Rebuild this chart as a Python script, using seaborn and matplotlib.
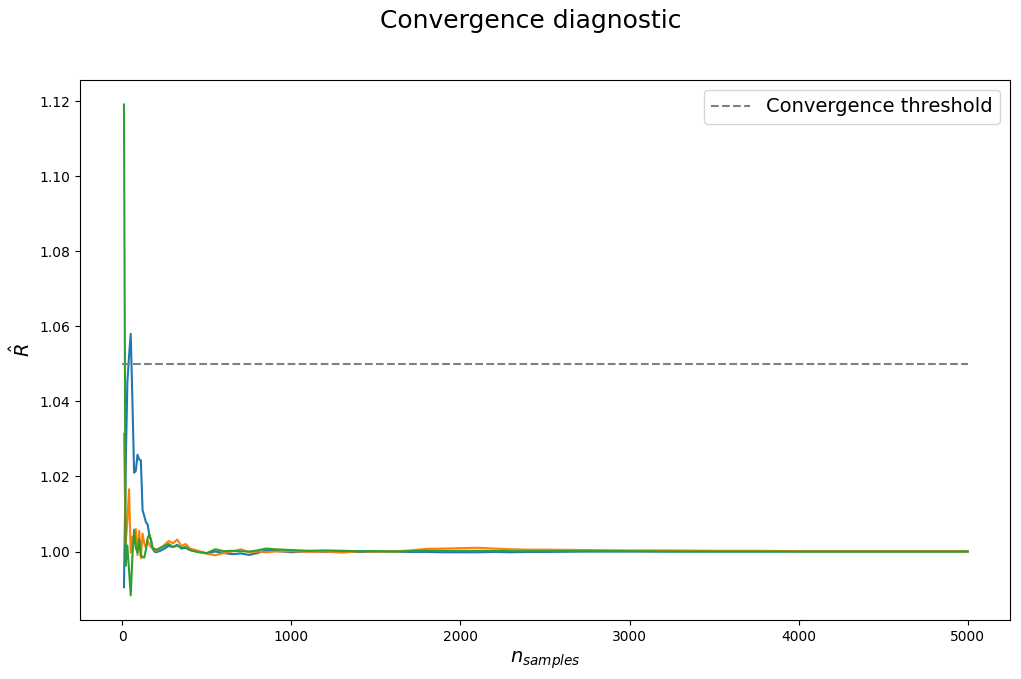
import numpy as np
import pandas as pd
import matplotlib
matplotlib.use("Agg")
import matplotlib.pyplot as plt
import seaborn as sns

# Number of samples at which R-hat was evaluated
N_SAMPLES = [10, 20, 30, 40, 50, 60, 70, 80, 90, 100,
             110, 120, 130, 140, 150, 160, 170, 180, 190, 200,
             225, 250, 275, 300, 325, 350, 375, 400,
             450, 500, 550, 600, 650, 700, 750, 800, 850, 900,
             1000, 1100, 1200, 1300, 1400, 1500, 1600, 1700, 1800, 1900,
             2000, 2100, 2200, 2300, 2400, 2500,
             2750, 3000, 3250, 3500, 3750, 4000, 4250, 4500, 4750, 5000]

# R-hat per parameter
RHAT_0 = [0.9905, 1.0220, 1.0450, 1.0520, 1.0580, 1.0400, 1.0210, 1.0215, 1.0258, 1.0245,
          1.0243, 1.0110, 1.0095, 1.0078, 1.0072, 1.0045, 1.0030, 1.0008, 1.0000, 0.9998,
          1.0002, 1.0008, 1.0015, 1.0012, 1.0018, 1.0008, 1.0010, 1.0004,
          1.0000, 0.9995, 1.0000, 0.9996, 0.9993, 0.9995, 0.9991, 0.9996, 1.0003, 1.0002,
          0.9998, 1.0001, 0.9999, 1.0000, 0.9999, 1.0000, 1.0000, 0.9999, 0.9999, 0.9998,
          0.9998, 0.9998, 0.9999, 0.9998, 0.9999, 0.9999,
          1.0000, 1.0000, 1.0000, 1.0000, 1.0000, 1.0000, 1.0000, 1.0000, 1.0000, 1.0000]

RHAT_1 = [1.0314, 1.0020, 1.0080, 1.0166, 0.9997, 1.0040, 1.0024, 1.0060, 0.9990, 1.0055,
          0.9982, 1.0048, 1.0022, 1.0010, 1.0030, 1.0018, 1.0012, 1.0010, 1.0005, 1.0002,
          1.0008, 1.0018, 1.0028, 1.0022, 1.0032, 1.0015, 1.0020, 1.0008,
          1.0002, 0.9994, 0.9990, 0.9996, 1.0000, 1.0006, 0.9998, 1.0000, 0.9998, 1.0000,
          1.0001, 0.9999, 1.0000, 0.9997, 1.0001, 1.0000, 1.0000, 1.0003, 1.0007, 1.0008,
          1.0009, 1.0010, 1.0008, 1.0006, 1.0005, 1.0005,
          1.0004, 1.0003, 1.0003, 1.0002, 1.0002, 1.0001, 1.0001, 1.0001, 1.0001, 1.0001]

RHAT_2 = [1.1191, 0.9962, 1.0016, 0.9950, 0.9883, 0.9990, 1.0058, 1.0010, 0.9997, 1.0033,
          0.9990, 0.9985, 0.9984, 1.0005, 1.0037, 1.0046, 1.0030, 1.0006, 1.0008, 1.0004,
          1.0010, 1.0015, 1.0020, 1.0012, 1.0016, 1.0010, 1.0012, 1.0004,
          0.9998, 0.9996, 1.0006, 1.0001, 1.0002, 1.0001, 1.0000, 1.0003, 1.0008, 1.0006,
          1.0004, 1.0002, 1.0003, 1.0002, 1.0001, 1.0001, 1.0000, 1.0001, 1.0002, 1.0002,
          1.0002, 1.0002, 1.0002, 1.0001, 1.0001, 1.0001,
          1.0001, 1.0001, 1.0000, 1.0000, 1.0000, 1.0000, 1.0000, 1.0000, 1.0000, 1.0000]

THRESHOLD = 1.05


def main():
    frames = []
    for i, rhat in enumerate([RHAT_0, RHAT_1, RHAT_2]):
        frames.append(pd.DataFrame({'n_samples': N_SAMPLES, 'rhat': rhat, 'param': f'p{i}'}))
    df = pd.concat(frames, ignore_index=True)

    fig, ax = plt.subplots(figsize=(10.21, 6.79), dpi=100)
    fig.subplots_adjust(left=80 / 1021, right=1010 / 1021, top=1 - 80 / 679, bottom=1 - 620 / 679)

    sns.lineplot(data=df, x='n_samples', y='rhat', hue='param',
                 palette=sns.color_palette('tab10', 3), legend=False, ax=ax)
    ax.hlines(THRESHOLD, 0, max(N_SAMPLES), linestyles='--', colors='gray',
              label='Convergence threshold')

    ax.set_xlabel(r'$n_{samples}$', fontsize=14)
    ax.set_ylabel(r'$\hat{R}$', fontsize=14)
    ax.legend(fontsize=14, loc='upper right')
    # the original was cropped tight, so the title sits a bit right of centre
    fig.suptitle('Convergence diagnostic', fontsize=18, x=0.52, y=0.987)

    fig.savefig('out.png', dpi=100)


if __name__ == "__main__":
    main()
